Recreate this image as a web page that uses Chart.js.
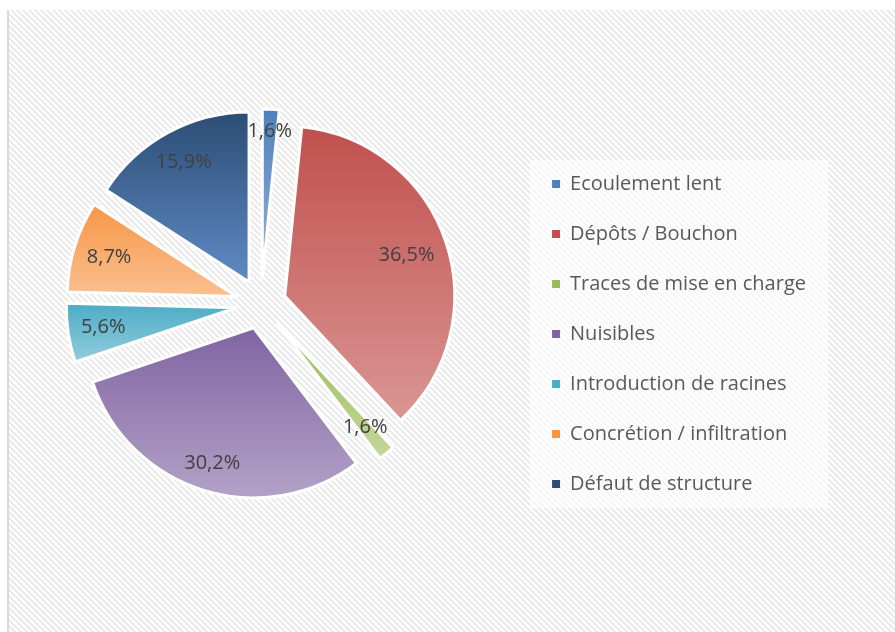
<!DOCTYPE html>
<html>
<head>
<meta charset="utf-8">
<script src="https://cdn.jsdelivr.net/npm/chart.js@4.4.0/dist/chart.umd.min.js"></script>
<style>
  html, body { margin: 0; padding: 0; background: #fff; }
</style>
</head>
<body>
<canvas id="chart" width="895" height="632"></canvas>
<script>
// data (percent of defects)
var categories = ['Ecoulement lent', 'Dépôts / Bouchon', 'Traces de mise en charge', 'Nuisibles',
                  'Introduction de racines', 'Concrétion / infiltration', 'Défaut de structure'];
var percentages = [1.6, 36.5, 1.6, 30.2, 5.6, 8.7, 15.9];

// slice gradient: top colour -> bottom colour
var topColors = ['#4f81bd', '#c0504d', '#9bbb59', '#8064a2', '#4bacc6', '#f79646', '#2c4d75'];
var bottomColors = ['#95b3d7', '#da9694', '#c4d79b', '#b3a2c7', '#93cddd', '#fac090', '#5f8bc4'];

var EXPLODE = 25;

function formatPct(v) {
  return v.toFixed(1).replace('.', ',') + '%';
}

var backdrop = {
  id: 'backdrop',
  beforeDraw: function(chart) {
    var ctx = chart.ctx;
    ctx.save();
    ctx.fillStyle = '#ffffff';
    ctx.fillRect(0, 0, chart.width, chart.height);

    // diagonal hatch tile
    var tile = document.createElement('canvas');
    tile.width = 6; tile.height = 6;
    var t = tile.getContext('2d');
    t.fillStyle = '#ffffff';
    t.fillRect(0, 0, 6, 6);
    t.fillStyle = '#ebebeb';
    for (var y = 0; y < 6; y++) {
      for (var x = 0; x < 6; x++) {
        var k = ((x - y) % 6 + 6) % 6;
        if (k < 3) t.fillRect(x, y, 1, 1);
      }
    }
    ctx.fillStyle = ctx.createPattern(tile, 'repeat');
    ctx.fillRect(9, 10, chart.width - 9, chart.height - 10);
    ctx.fillStyle = '#d9d9d9';
    ctx.fillRect(7, 10, 2, chart.height - 10);

    // whitish box behind the legend
    var lg = chart.legend;
    if (lg && lg.legendHitBoxes && lg.legendHitBoxes.length) {
      var hb = lg.legendHitBoxes;
      var last = hb[hb.length - 1];
      var top = hb[0].top - 14;
      var bottom = last.top + last.height + 14;
      ctx.fillStyle = 'rgba(255,255,255,0.6)';
      ctx.fillRect(hb[0].left - 22, top, 298, bottom - top);
    }
    ctx.restore();
  }
};

var explode = {
  id: 'explode',
  afterDatasetUpdate: function(chart, args) {
    args.meta.data.forEach(function(arc) {
      var mid = (arc.startAngle + arc.endAngle) / 2;
      arc.x += Math.cos(mid) * EXPLODE;
      arc.y += Math.sin(mid) * EXPLODE;
    });
  },
  beforeDatasetDraw: function(chart, args) {
    var ctx = chart.ctx;
    args.meta.data.forEach(function(arc, i) {
      var r = arc.outerRadius;
      var ys = [arc.y, arc.y + Math.sin(arc.startAngle) * r, arc.y + Math.sin(arc.endAngle) * r];
      [-Math.PI / 2, Math.PI / 2, 3 * Math.PI / 2].forEach(function(a) {
        if (a >= arc.startAngle && a <= arc.endAngle) ys.push(arc.y + Math.sin(a) * r);
      });
      var g = ctx.createLinearGradient(0, Math.min.apply(null, ys), 0, Math.max.apply(null, ys));
      g.addColorStop(0, topColors[i]);
      g.addColorStop(1, bottomColors[i]);
      arc.options.backgroundColor = g;
    });
  }
};

var sliceLabels = {
  id: 'sliceLabels',
  afterDatasetsDraw: function(chart) {
    var ctx = chart.ctx;
    var meta = chart.getDatasetMeta(0);
    ctx.save();
    ctx.font = '20px "Open Sans"';
    ctx.fillStyle = '#404040';
    ctx.textAlign = 'center';
    ctx.textBaseline = 'middle';
    meta.data.forEach(function(arc, i) {
      var txt = formatPct(percentages[i]);
      var w = ctx.measureText(txt).width;
      var mid = (arc.startAngle + arc.endAngle) / 2;
      var c = Math.cos(mid), s = Math.sin(mid);
      var d = arc.outerRadius - 12 - (w / 2 * Math.abs(c) + 9 * Math.abs(s));
      ctx.fillText(txt, arc.x + c * d, arc.y + s * d);
    });
    ctx.restore();
  }
};

new Chart(document.getElementById('chart'), {
  type: 'pie',
  data: {
    labels: categories,
    datasets: [{
      data: percentages,
      backgroundColor: topColors,
      borderColor: '#ffffff',
      borderWidth: 3
    }]
  },
  options: {
    responsive: false,
    animation: false,
    events: [],
    radius: 170,
    layout: { padding: { left: -4, top: 10, right: 79, bottom: 34 } },
    plugins: {
      tooltip: { enabled: false },
      legend: {
        position: 'right',
        title: { display: true, text: '', padding: 24, font: { size: 10 } },
        labels: {
          boxWidth: 8,
          boxHeight: 8,
          padding: 30,
          color: '#595959',
          font: { family: "'Open Sans', sans-serif", size: 20 },
          generateLabels: function(chart) {
            return categories.map(function(c, i) {
              return { text: c, fillStyle: topColors[i], strokeStyle: topColors[i],
                       lineWidth: 0, hidden: false, index: i, fontColor: '#595959' };
            });
          }
        }
      }
    }
  },
  plugins: [backdrop, explode, sliceLabels]
});
</script>
</body>
</html>
